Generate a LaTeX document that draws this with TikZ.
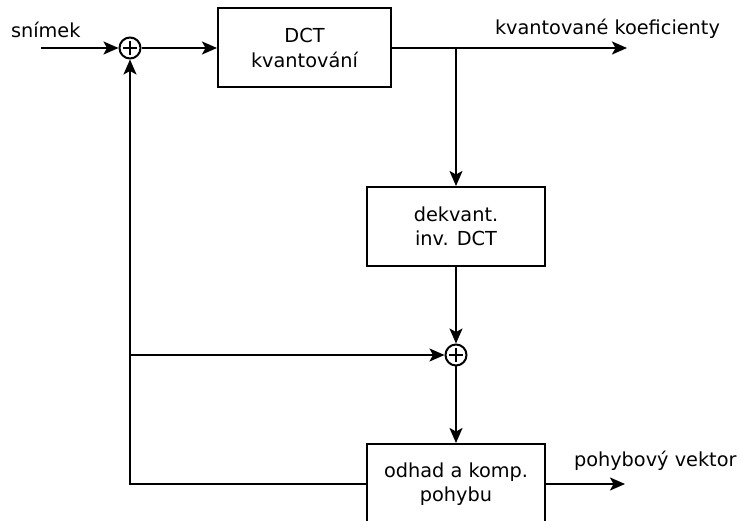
\documentclass[tikz,border=0pt]{standalone}
\usepackage{fontspec}
\setmainfont{DejaVu Sans}
\usetikzlibrary{arrows.meta}
\newcommand\labelfont{\fontsize{19.3}{24.5}\selectfont}
\begin{document}
\begin{tikzpicture}[x=1pt, y=-1pt, line width=2pt,
  block/.style={draw, minimum width=178pt, minimum height=79pt, inner sep=0pt,
    align=center, font=\labelfont},
  summer/.style={draw, circle, minimum size=21pt, inner sep=0pt,
    path picture={\draw[line width=1.2pt]
      ([xshift=-7pt]path picture bounding box.center) -- ([xshift=7pt]path picture bounding box.center)
      ([yshift=-7pt]path picture bounding box.center) -- ([yshift=7pt]path picture bounding box.center);}},
  flow/.style={-{Stealth[length=15pt,width=13pt,inset=3.5pt]}},
  lbl/.style={font=\labelfont, inner sep=0pt, anchor=base west}]
\useasboundingbox (0,0) rectangle (740,521);
\clip (0,0) rectangle (740,521);

% blocks
\node[block, minimum width=173pt] (dct) at (304.5,48) {DCT\\kvantování};
\node[block] (idct) at (456,226.5) {dekvant.\\inv. DCT};
\node[block, minimum height=80pt] (me) at (456,484) {odhad a komp.\\pohybu};

% adders
\node[summer] (s1) at (130,48) {};
\node[summer] (s2) at (456,355) {};

% labels
\node[lbl] (lin) at (10,38) {snímek};
\node[lbl] (lq) at (494,35) {kvantované koeficienty};
\node[lbl] (lmv) at (573,467) {pohybový vektor};

% free ends and corners
\coordinate (in) at (41,48);
\coordinate (qout) at (627,48);
\coordinate (br) at (456,48);
\coordinate (mvout) at (625,484);
\coordinate (cl) at (130,484);
\coordinate (cm) at (130,355);

% connectors
\draw[flow] (in) -- (s1);
\draw[flow] (s1) -- (dct);
\draw[flow] (dct.east) -- (qout);
\draw[flow] (br) -- (idct);
\draw[flow] (idct) -- (s2);
\draw[flow] (s2) -- (me);
\draw[flow] (cm) -- (s2);
\draw[flow] (me.west) -- (cl) -- (s1);
\draw[flow] (me.east) -- (mvout);
\end{tikzpicture}
\end{document}
